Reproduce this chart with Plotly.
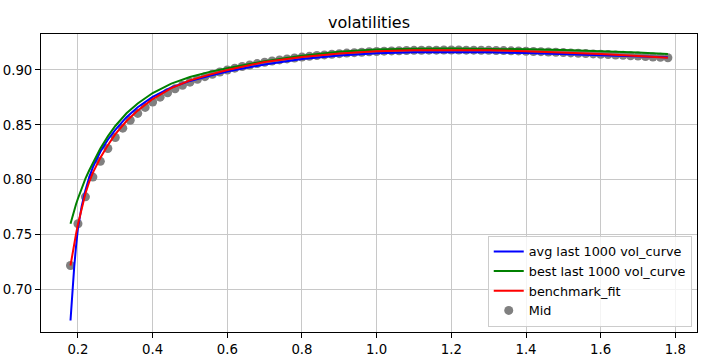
import plotly.graph_objects as go

# Mid points (x grid step 0.02 from 0.18 to 1.78)
mid_x = [round(0.18 + 0.02 * i, 2) for i in range(81)]
mid_y = [
    0.7220, 0.7600, 0.7845, 0.8025, 0.8168, 0.8285, 0.8385, 0.8470, 0.8542, 0.8604,
    0.8659, 0.8708, 0.8752, 0.8792, 0.8828, 0.8860, 0.8889, 0.8915, 0.8939, 0.8961,
    0.8981, 0.8999, 0.9016, 0.9031, 0.9045, 0.9058, 0.9070, 0.9081, 0.9091, 0.9100,
    0.9109, 0.9117, 0.9124, 0.9131, 0.9137, 0.9143, 0.9148, 0.9153, 0.9157, 0.9161,
    0.9165, 0.9168, 0.9171, 0.9173, 0.9175, 0.9177, 0.9178, 0.9179, 0.9180, 0.9180,
    0.9181, 0.9181, 0.9181, 0.9180, 0.9180, 0.9179, 0.9178, 0.9177, 0.9176, 0.9174,
    0.9173, 0.9170, 0.9168, 0.9166, 0.9163, 0.9161, 0.9158, 0.9155, 0.9152, 0.9149,
    0.9146, 0.9143, 0.9140, 0.9136, 0.9133, 0.9129, 0.9126, 0.9122, 0.9118, 0.9115,
    0.9111,
]

# Curve sample points
line_x = [0.18, 0.185, 0.19, 0.195, 0.20, 0.21, 0.22, 0.23, 0.24, 0.26, 0.28, 0.30,
          0.33, 0.36, 0.40, 0.45, 0.50, 0.55, 0.60, 0.70, 0.80, 0.90, 1.00, 1.10,
          1.20, 1.30, 1.40, 1.50, 1.60, 1.70, 1.78]

avg_y = [0.672, 0.700, 0.721, 0.740, 0.756, 0.776, 0.7905, 0.802, 0.8115, 0.8255,
         0.8365, 0.8455, 0.857, 0.866, 0.8755, 0.8840, 0.8900, 0.8945, 0.8985,
         0.9050, 0.9100, 0.9132, 0.9152, 0.9160, 0.9162, 0.9160, 0.9155, 0.9145,
         0.9135, 0.9124, 0.9115]

best_y = [0.760, 0.7665, 0.7725, 0.778, 0.783, 0.7925, 0.801, 0.8085, 0.8155,
          0.8285, 0.8395, 0.849, 0.8605, 0.8695, 0.8790, 0.8875, 0.8935, 0.8980,
          0.9015, 0.9080, 0.9130, 0.9165, 0.9185, 0.9193, 0.9194, 0.9192, 0.9188,
          0.9181, 0.9172, 0.9158, 0.9145]

bench_y = [0.722, 0.7325, 0.742, 0.751, 0.7595, 0.7745, 0.7875, 0.798, 0.8065,
           0.820, 0.8315, 0.8415, 0.8535, 0.8630, 0.8735, 0.8835, 0.8905, 0.8955,
           0.9000, 0.9072, 0.9118, 0.9150, 0.9170, 0.9180, 0.9182, 0.9179, 0.9171,
           0.9159, 0.9144, 0.9127, 0.9111]

x_ticks = [0.2, 0.4, 0.6, 0.8, 1.0, 1.2, 1.4, 1.6, 1.8]
y_ticks = [0.70, 0.75, 0.80, 0.85, 0.90]

FONT = "DejaVu Sans"

fig = go.Figure()
fig.add_trace(go.Scatter(x=mid_x, y=mid_y, mode="markers", name="Mid",
                         marker=dict(color="gray", size=9, line=dict(width=0)),
                         legendrank=4))
fig.add_trace(go.Scatter(x=line_x, y=avg_y, mode="lines", name="avg last 1000 vol_curve",
                         line=dict(color="blue", width=2), legendrank=1))
fig.add_trace(go.Scatter(x=line_x, y=best_y, mode="lines", name="best last 1000 vol_curve",
                         line=dict(color="green", width=2), legendrank=2))
fig.add_trace(go.Scatter(x=line_x, y=bench_y, mode="lines", name="benchmark_fit",
                         line=dict(color="red", width=2), legendrank=3))

axis_common = dict(showline=True, linecolor="black", linewidth=1, mirror=True,
                   showgrid=True, gridcolor="#c8c8c8", gridwidth=1,
                   ticks="outside", ticklen=5, tickwidth=1, tickcolor="black",
                   zeroline=False, automargin=False,
                   tickfont=dict(family=FONT, size=13.3, color="black"))

fig.update_layout(
    width=711, height=363,
    margin=dict(l=41, r=14, t=34, b=31, autoexpand=False),
    paper_bgcolor="white", plot_bgcolor="white",
    font=dict(family=FONT, size=13.3, color="black"),
    title=dict(text="volatilities", x=0.5, xref="paper", xanchor="center",
               y=1, yref="paper", yanchor="bottom", pad=dict(b=6), automargin=False,
               font=dict(family=FONT, size=16, color="black")),
    xaxis=dict(range=[0.101, 1.858], tickvals=x_ticks, tickformat=".1f", **axis_common),
    yaxis=dict(range=[0.6615, 0.9327], tickvals=y_ticks, tickformat=".2f", **axis_common),
    legend=dict(x=0.992, y=0.018, xanchor="right", yanchor="bottom",
                bgcolor="rgba(255,255,255,0.8)", bordercolor="#cccccc", borderwidth=1,
                itemwidth=30, font=dict(family=FONT, size=12.8, color="black"),
                tracegroupgap=0),
    showlegend=True,
)

fig.write_html("out.html",
               config={"displayModeBar": False},
               post_script="document.body.style.margin='0';document.body.style.padding='0';")
